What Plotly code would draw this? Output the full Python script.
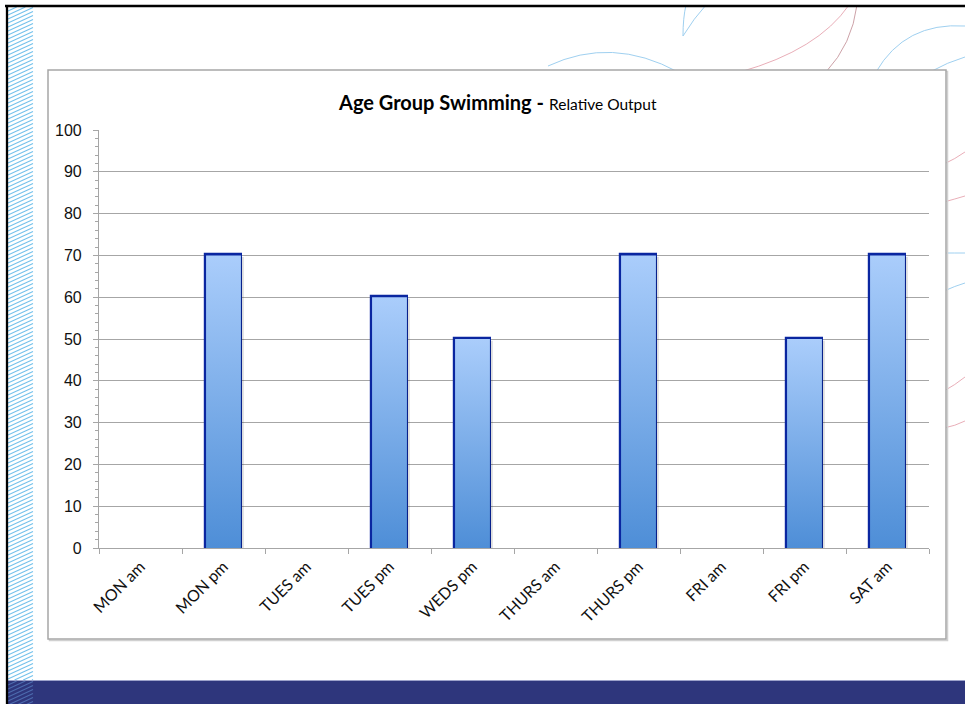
import plotly.graph_objects as go

# ---- data -------------------------------------------------------------
sessions = ["MON am", "MON pm", "TUES am", "TUES pm", "WEDS pm",
            "THURS am", "THURS pm", "FRI am", "FRI pm", "SAT am"]
output = [0, 70, 0, 60, 50, 0, 70, 0, 50, 70]
y_ticks = list(range(0, 101, 10))

# ---- page geometry (pixels) -------------------------------------------
W, H = 965, 704
PL, PR, PT, PB = 99, 929, 130, 548          # plot area edges
BAR_W = 0.42


def px(x):
    return (x - PL) / (PR - PL)


def py(y):
    return (PB - y) / (PB - PT)


fig = go.Figure()

# gradient-filled columns with a faint drop shadow
for i, v in enumerate(output):
    if not v:
        continue
    x0, x1 = i - BAR_W / 2, i + BAR_W / 2
    off = 0.035
    fig.add_trace(go.Scatter(
        x=[x0 + off, x1 + off, x1 + off, x0 + off, x0 + off],
        y=[0, 0, v - 0.4, v - 0.4, 0],
        fill="toself", mode="lines", line=dict(width=0),
        fillcolor="rgba(0,0,0,0.13)", hoverinfo="skip", showlegend=False))
    fig.add_trace(go.Scatter(
        x=[x0, x1, x1, x0, x0], y=[0, 0, v, v, 0],
        fill="toself", mode="lines", line=dict(width=0),
        fillgradient=dict(type="vertical",
                          colorscale=[[0, "#4E8ED7"], [1, "#AACDFB"]]),
        hoverinfo="skip", showlegend=False))

# column outlines
fig.add_trace(go.Bar(
    x=[i for i, v in enumerate(output) if v],
    y=[v for v in output if v],
    width=BAR_W,
    marker=dict(color="rgba(0,0,0,0)", line=dict(color="#0A26A0", width=3.2)),
    showlegend=False, hoverinfo="skip"))

# ---- background decoration --------------------------------------------
shapes = []


def hatch(ylo, yhi, xl=8.0, xr=33.0, rise=11.5, step=4.0):
    """Diagonal hatch lines clipped to the strip xl..xr, ylo..yhi."""
    parts = []
    slope = rise / (xr - xl)
    y0 = ylo
    while y0 < yhi + rise:
        ax, ay = xl, y0
        bx, by = xr, y0 - rise
        if ay > yhi:
            ax = xl + (ay - yhi) / slope
            ay = yhi
        if by < ylo:
            bx = xl + (y0 - ylo) / slope
            by = ylo
        if bx > ax:
            parts.append(f"M {px(ax):.5f},{py(ay):.5f} L {px(bx):.5f},{py(by):.5f}")
        y0 += step
    return " ".join(parts)


def curve(pts, color, width=1.0):
    shapes.append(dict(type="path", xref="paper", yref="paper",
                       path="M {:.5f},{:.5f} Q {:.5f},{:.5f} {:.5f},{:.5f}".format(
                           px(pts[0][0]), py(pts[0][1]),
                           px(pts[1][0]), py(pts[1][1]),
                           px(pts[2][0]), py(pts[2][1])),
                       line=dict(color=color, width=width), layer="below"))


blue = "#9FD0F0"
pink = "#E9AEB8"
rose = "#CDA2A8"

# arcs peeking out around the chart frame
curve([(548, 66), (612, 36), (678, 72)], blue)
curve([(683, 36), (683, 18), (686, 5)], blue)
curve([(683, 36), (694, 18), (706, 5)], blue)
curve([(740, 72), (818, 50), (849, 5)], pink)
curve([(826, 72), (852, 44), (857, 5)], rose)
curve([(876, 72), (905, 22), (965, 26)], blue)
curve([(930, 72), (948, 62), (965, 57)], blue)
curve([(944, 164), (955, 159), (965, 152)], pink)
curve([(944, 202), (955, 199), (965, 196)], pink)
curve([(944, 253), (955, 253), (965, 253)], blue)
curve([(944, 291), (955, 286), (965, 283)], blue)
curve([(944, 391), (955, 385), (965, 377)], pink)
curve([(944, 428), (955, 426), (965, 421)], pink)

# hatched strip on the left edge
shapes.append(dict(type="path", xref="paper", yref="paper",
                   path=hatch(7, 680), line=dict(color="#74C2EC", width=1.1),
                   layer="below"))

# footer band
shapes.append(dict(type="rect", xref="paper", yref="paper",
                   x0=px(8), x1=px(W + 2), y0=py(680), y1=py(H + 2),
                   fillcolor="#2E367C", line=dict(width=0), layer="below"))
shapes.append(dict(type="line", xref="paper", yref="paper",
                   x0=px(8), x1=px(W + 2), y0=py(680.5), y1=py(680.5),
                   line=dict(color="#9CA2CA", width=1), layer="below"))
shapes.append(dict(type="path", xref="paper", yref="paper",
                   path=hatch(681, H + 2), line=dict(color="#4D6BAE", width=1.1),
                   layer="below"))

# dark frame lines along the top and left
shapes.append(dict(type="line", xref="paper", yref="paper",
                   x0=px(5), x1=px(W + 2), y0=py(6), y1=py(6),
                   line=dict(color="#000000", width=2.3), layer="below"))
shapes.append(dict(type="line", xref="paper", yref="paper",
                   x0=px(7), x1=px(7), y0=py(5), y1=py(H + 2),
                   line=dict(color="#000000", width=2.3), layer="below"))

# chart frame with a soft edge shadow
shapes.append(dict(type="rect", xref="paper", yref="paper",
                   x0=px(49.5), x1=px(947.5), y0=py(640.5), y1=py(71.5),
                   fillcolor="rgba(0,0,0,0)", line=dict(color="#D0D0D0", width=1.5),
                   layer="below"))
shapes.append(dict(type="rect", xref="paper", yref="paper",
                   x0=px(48), x1=px(946), y0=py(639), y1=py(70),
                   fillcolor="#FFFFFF", line=dict(color="#A6A6A6", width=1.5),
                   layer="below"))

grey = "#A6A6A6"

fig.update_layout(
    width=W, height=H,
    margin=dict(l=PL, r=W - PR, t=PT, b=H - PB, pad=0),
    paper_bgcolor="#FFFFFF",
    plot_bgcolor="rgba(0,0,0,0)",
    shapes=shapes,
    bargap=0,
    showlegend=False,
    annotations=[dict(
        xref="paper", yref="paper", x=px(497), y=py(102),
        xanchor="center", yanchor="middle", showarrow=False,
        text="<b>Age Group Swimming -</b> "
             "<span style='font-size:15.5px'>Relative Output</span>",
        font=dict(family="Lato, 'Open Sans', sans-serif", size=20, color="#000000"))],
    xaxis=dict(
        type="linear", range=[-0.5, len(sessions) - 0.5],
        tickmode="array", tickvals=list(range(len(sessions))), ticktext=sessions,
        tickangle=-45, ticks="", showgrid=False, zeroline=False,
        showline=True, linecolor=grey, linewidth=1.2,
        ticklabelstandoff=2,
        tickfont=dict(family="Lato, 'Open Sans', sans-serif", size=16, color="#111111"),
        minor=dict(tickmode="array",
                   tickvals=[i - 0.5 for i in range(len(sessions) + 1)],
                   ticks="outside", ticklen=5, tickcolor=grey, tickwidth=1.2,
                   showgrid=False),
        fixedrange=True),
    yaxis=dict(
        range=[0, 100], tickmode="array", tickvals=y_ticks,
        ticks="outside", ticklen=5, tickcolor=grey, tickwidth=1.2,
        showline=True, linecolor=grey, linewidth=1.2,
        showgrid=True, gridcolor=grey, gridwidth=1.2, zeroline=False,
        ticklabelstandoff=8,
        tickfont=dict(family="Liberation Sans, Arial, sans-serif", size=16,
                      color="#111111"),
        minor=dict(dtick=2, ticks="outside", ticklen=3, tickcolor=grey,
                   tickwidth=1, showgrid=False),
        fixedrange=True),
)

fig.write_html("out.html")
